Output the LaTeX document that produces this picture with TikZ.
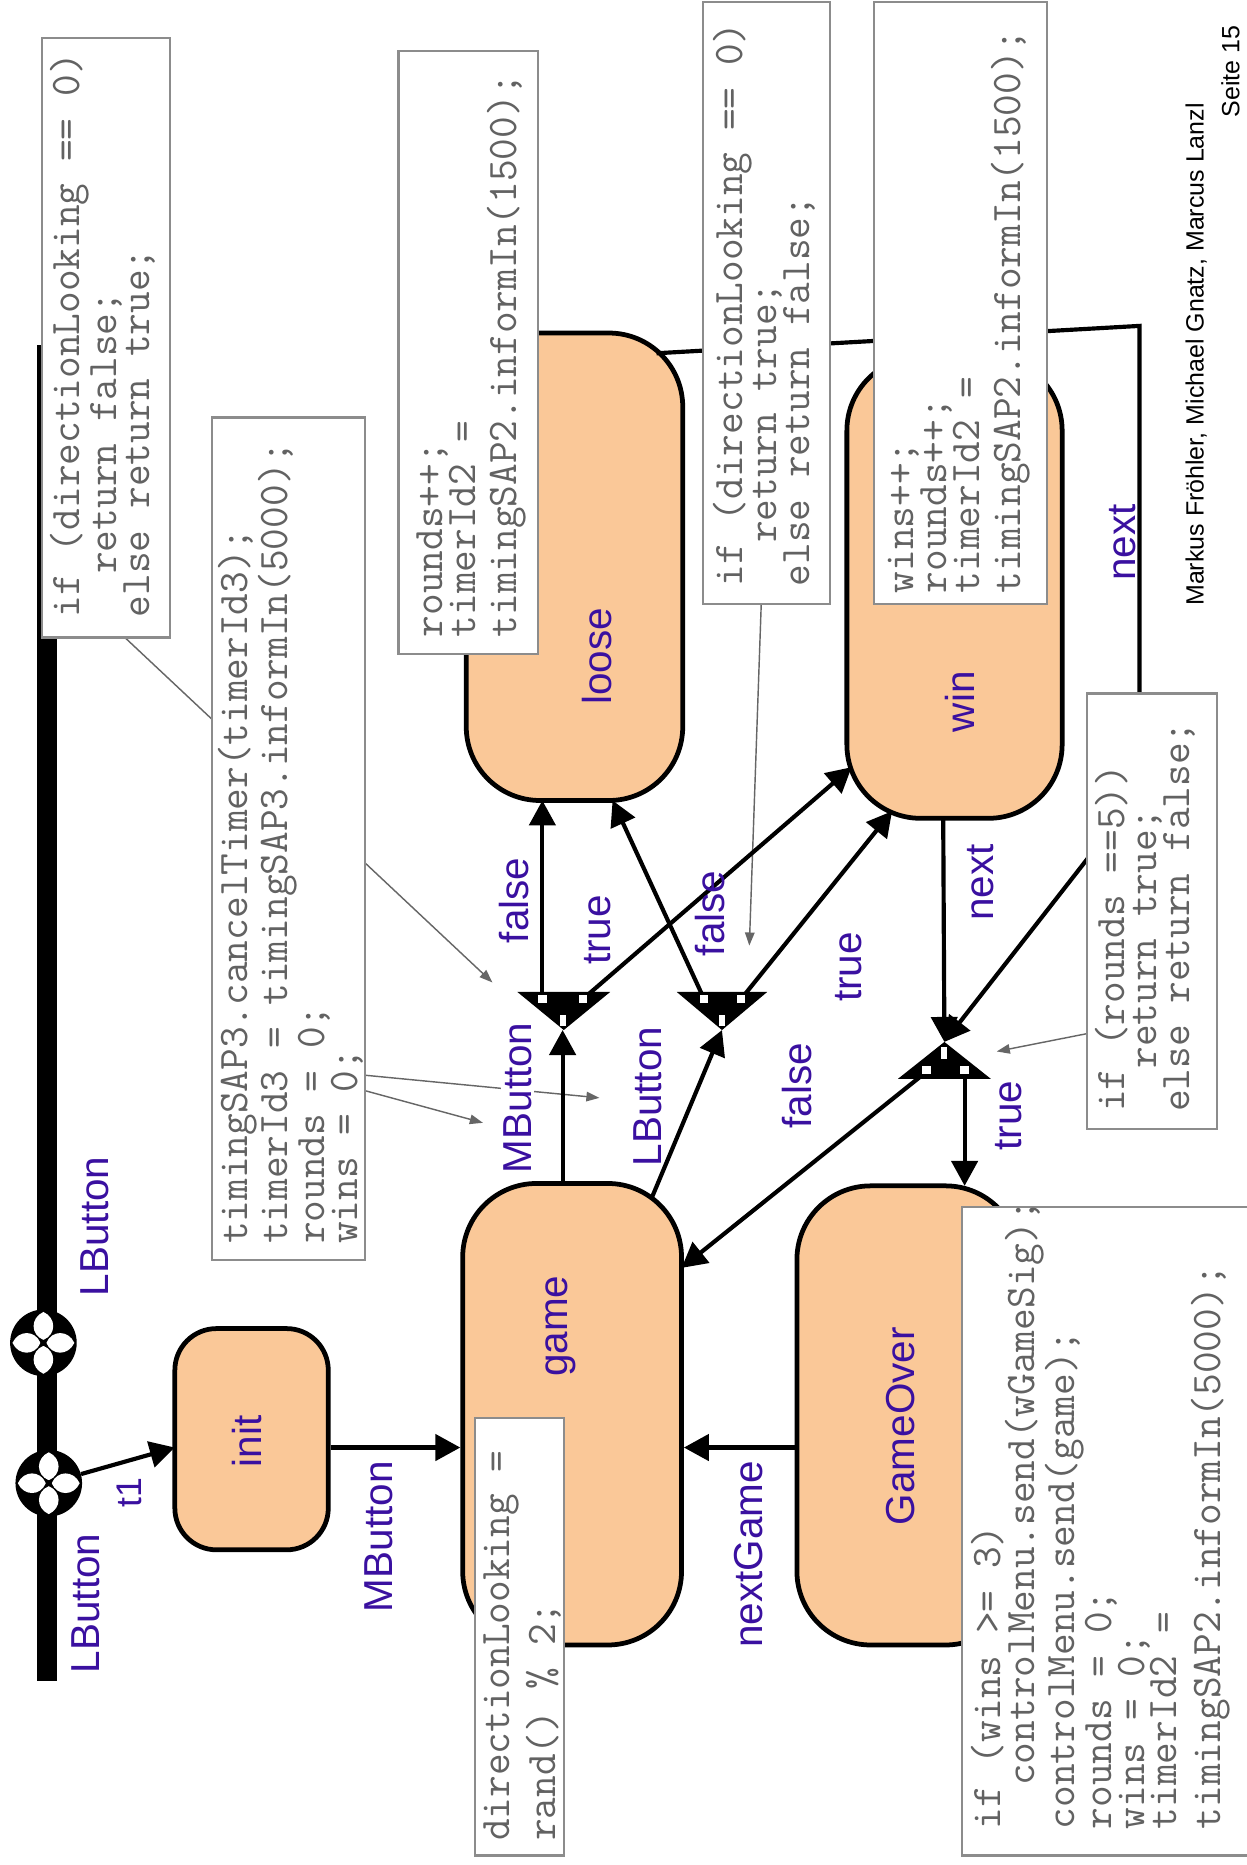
\documentclass[tikz,border=0pt]{standalone}
\usepackage{fontspec}
\usetikzlibrary{arrows.meta}
\newfontfamily\labelfont{Liberation Sans}
\definecolor{statefill}{HTML}{FAC898}
\definecolor{labelblue}{HTML}{3A10A0}
\definecolor{notegray}{HTML}{8C8C8C}
\definecolor{codegray}{HTML}{626262}
\newcommand{\codeind}{\hphantom{xx}}
\newcommand{\firstline}{\rule{0pt}{26pt}}
\begin{document}
\begin{tikzpicture}[x=1pt,y=-1pt,
  state/.style={draw=black, line width=4pt, fill=statefill, rounded corners=62pt, inner sep=0pt},
  trans/.style={line width=3.5pt, -{Triangle[length=21pt,width=22pt]}},
  notebox/.style={draw=notegray, line width=1.8pt, fill=white, inner sep=0pt},
  codetext/.style={rotate=90, anchor=north west, inner sep=0pt, align=left, text=codegray,
    font=\ttfamily\fontsize{35.4}{27.5}\selectfont},
  lab/.style={rotate=90, anchor=base, inner sep=0pt, text=labelblue,
    font=\labelfont\fontsize{34}{40}\selectfont},
  noteline/.style={draw=black!60, line width=1.2pt, -{Triangle[length=11pt,width=8pt]}},
  port/.style={fill=white},
  flowerdisc/.style={circle, fill=black, minimum size=56pt, inner sep=0pt},
]
\useasboundingbox (0,0) rectangle (1048,1568);
\fill[white] (0,0) rectangle (1048,1568);

% ---------- the initial point bar ----------
\fill (31,290) rectangle (48,1413);

% ---------- connection points ----------
\coordinate (j1) at (474,834);
\coordinate (j2) at (607,834);
\coordinate (j3) at (794,876);
\coordinate (j1in) at (473,866);
\coordinate (j1f) at (456,840);
\coordinate (j1t) at (490,840);
\coordinate (j2in) at (607,866);
\coordinate (j2l) at (592,840);
\coordinate (j2r) at (623,840);
\coordinate (j3l) at (779,901);
\coordinate (j3r) at (811,901);

\coordinate (lf) at (456,673);
\coordinate (lt) at (515,673);
\coordinate (ltr) at (552,297);
\coordinate (w1) at (716,645);
\coordinate (w2) at (750,682);
\coordinate (wb) at (793,688);
\coordinate (gtop) at (473,995);
\coordinate (gtr) at (548,1007);
\coordinate (gright) at (573,1066);
\coordinate (gotop) at (811,997);
\coordinate (nx1) at (958,274);
\coordinate (nx2) at (958,666);
\coordinate (ngy) at (0,1217);
\coordinate (initin) at (147,1217);

% ---------- note connectors (behind the notes) ----------
\coordinate (aA) at (105,536);
\coordinate (aAt) at (414,826);
\coordinate (aB1) at (307,904);
\coordinate (aB1t) at (504,923);
\coordinate (aB2) at (307,917);
\coordinate (aB2t) at (406,944);
\coordinate (aD) at (640,508);
\coordinate (aDt) at (630,795);
\coordinate (aF) at (914,869);
\coordinate (aFt) at (838,884);
\draw[noteline] (aA) -- (aAt);
\draw[noteline] (aB1) -- (aB1t);
\draw[noteline] (aB2) -- (aB2t);
\draw[noteline] (aD) -- (aDt);
\draw[noteline] (aF) -- (aFt);

% ---------- states ----------
\node[state, rounded corners=35pt, minimum width=129pt, minimum height=186pt] (init) at (211.5,1210) {};
\node[state, minimum width=184pt, minimum height=388pt] (game) at (481,1189) {};
\node[state, minimum width=187pt, minimum height=386pt] (GameOver) at (763.5,1190) {};
\node[state, minimum width=182pt, minimum height=393pt] (loose) at (483,476.5) {};
\node[state, minimum width=181pt, minimum height=388pt] (win) at (802.5,494) {};

% ---------- initial points ----------
\node[flowerdisc] (c1) at (36.5,1129) {};
\node[flowerdisc] (c2) at (41,1247) {};
\foreach \c in {c1,c2}{
  \foreach \a in {0,90,180,270}{
    \fill[white, shift={(\c)}, rotate=\a]
      (2.5,0) .. controls (7,-11) and (21,-11) .. (26,0) .. controls (21,11) and (7,11) .. (2.5,0);
  }
  \fill[black] (\c) circle (2.5);
}

% ---------- transitions ----------
\draw[trans] (c2) -- (initin);
\draw[trans] (init.east |- initin) -- (game.west |- initin);
\draw[trans] (GameOver.west |- ngy) -- (game.east |- ngy);
\draw[trans] (gtop) -- (j1in);
\draw[trans] (gtr) -- (j2in);
\draw[trans] (j1f) -- (lf);
\draw[trans] (j1t) -- (w1);
\draw[trans] (j2l) -- (lt);
\draw[trans] (j2r) -- (w2);
\draw[trans] (wb) -- (j3);
\draw[trans] (ltr) -- (nx1) -- (nx2) -- (j3);
\draw[trans] (j3r) -- (gotop);
\draw[trans] (j3l) -- (gright);

% ---------- choice points ----------
\fill (j1) ++(-39,0) -- ++(78,0) -- ++(-39,32) -- cycle;
\fill (j2) ++(-38,0) -- ++(76,0) -- ++(-38,32) -- cycle;
\fill (j3) -- ++(39,31) -- ++(-78,0) -- cycle;
\foreach \p in {j1f,j1t,j2l,j2r}{ \fill[port] (\p) ++(-3.5,-3.5) rectangle ++(7,7); }
\foreach \p in {j3l,j3r}{ \fill[port] (\p) ++(-3.5,-5) rectangle ++(7,7); }
\fill[port] (473,858) ++(-2.5,-5) rectangle ++(5,10);
\fill[port] (607,858) ++(-2.5,-5) rectangle ++(5,10);
\fill[port] (794,885) ++(-2.5,-5) rectangle ++(5,10);

% ---------- notes ----------
\node[notebox, minimum width=108pt, minimum height=504pt] (noteA) at (89,284) {};
\node[notebox, minimum width=129pt, minimum height=708pt] (noteB) at (242.5,705) {};
\node[notebox, minimum width=117pt, minimum height=507pt] (noteC) at (393.5,296.5) {};
\node[notebox, minimum width=107pt, minimum height=506pt] (noteD) at (644.5,255) {};
\node[notebox, minimum width=145pt, minimum height=506pt] (noteE) at (807.5,255) {};
\node[notebox, minimum width=109pt, minimum height=366pt] (noteF) at (968.5,766) {};
\node[notebox, minimum width=251pt, minimum height=545pt] (noteG) at (934.5,1287.5) {};
\node[notebox, minimum width=75pt, minimum height=368pt] (noteH) at (436.5,1376) {};

\node[codetext] (codeA) at (41,519) {\firstline if (directionLooking == 0)\\
\codeind return false;\\
else return true;};
\node[codetext] (codeB) at (182,1046) {\firstline timingSAP3.cancelTimer(timerId3);\\
timerId3 = timingSAP3.informIn(5000);\\
rounds = 0;\\
wins = 0;};
\node[codetext] (codeC) at (346,536) {\firstline rounds++;\\
timerId2 =\\[7pt]
timingSAP2.informIn(1500);};
\node[codetext] (codeD) at (598,493) {\firstline if (directionLooking == 0)\\
\codeind return true;\\
else return false;};
\node[codetext] (codeE) at (742,499) {\firstline wins++;\\
rounds++;\\
timerId2 =\\[7pt]
timingSAP2.informIn(1500);};
\node[codetext] (codeF) at (919,935) {\firstline if (rounds ==5))\\
\codeind return true;\\
else return false;};
\node[codetext] (codeG) at (815,1538) {\firstline if (wins >= 3)\\
\codeind controlMenu.send(wGameSig);\\
controlMenu.send(game);\\
rounds = 0;\\
wins = 0;\\
timerId2 =\\[9pt]
timingSAP2.informIn(5000);};
\node[codetext] (codeH) at (402,1548) {\firstline directionLooking =\\[5pt]
rand() \% 2;};

% ---------- state names ----------
\node[lab] (tloose) at (514,552) {loose};
\node[lab] (twin) at (819,590) {win};
\node[lab] (tgame) at (477,1115) {game};
\node[lab] (tinit) at (220,1212) {init};
\node[lab] (tover) at (769,1199) {GameOver};

% ---------- transition labels ----------
\node[lab] (lf1) at (444,757) {false};
\node[lab] (lt1) at (513,782) {true};
\node[lab] (lf2) at (609,768) {false};
\node[lab, fill=white, inner sep=2pt] (lm1) at (447,923) {MButton};
\node[lab] (ll1) at (556,922) {LButton};
\node[lab] (lf3) at (682,913) {false};
\node[lab] (lt2) at (724,813) {true};
\node[lab] (ln1) at (835,742) {next};
\node[lab] (lt3) at (859,938) {true};
\node[lab] (ln2) at (955,456) {next};
\node[lab] (lng) at (641,1307) {nextGame};
\node[lab] (lm2) at (330,1292) {MButton};
\node[lab] (ll2) at (91,1031) {LButton};
\node[lab] (ll3) at (84,1348) {LButton};
\node[lab, font=\labelfont\fontsize{30}{34}\selectfont] (lt1a) at (119,1255) {t1};

% ---------- footer ----------
\node[rotate=90, anchor=base, inner sep=0pt, font=\labelfont\fontsize{21}{25}\selectfont] (authors) at (1012,298) {Markus Fröhler, Michael Gnatz, Marcus Lanzl};
\node[rotate=90, anchor=base, inner sep=0pt, font=\labelfont\fontsize{21}{25}\selectfont] (page) at (1042,60) {Seite 15};
\end{tikzpicture}
\end{document}
